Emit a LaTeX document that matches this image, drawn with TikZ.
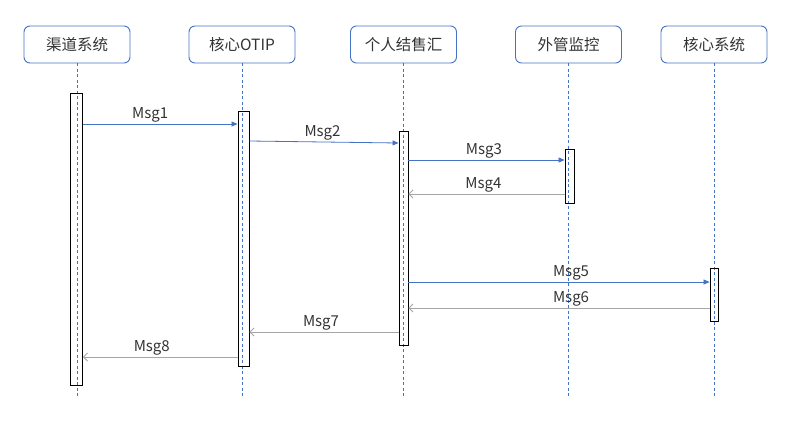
\documentclass[tikz,border=0pt]{standalone}
\usepackage{fontspec}
\setmainfont{Noto Sans CJK SC}
\usetikzlibrary{arrows.meta}
\definecolor{lineblue}{HTML}{4472C4}
\definecolor{msggray}{HTML}{A6A6A6}
\definecolor{txtgray}{HTML}{333333}
\tikzset{
  head/.style={draw=lineblue, line width=0.9pt, rounded corners=6pt, minimum width=106pt,
    minimum height=37pt, inner sep=0pt, text=txtgray, font=\fontsize{15.5}{18}\selectfont},
  life/.style={lineblue, line width=0.7pt, dash pattern=on 3pt off 2.5pt},
  actbox/.style={draw=black, line width=0.9pt, minimum width=10pt, inner sep=0pt},
  call/.style={lineblue, line width=0.8pt, -{Triangle[length=6pt,width=5pt]}},
  reply/.style={msggray, line width=0.8pt, -{Straight Barb[length=4pt,width=8pt]}},
  lbl/.style={above, inner sep=1.5pt, text=txtgray, font=\fontsize{15}{17}\selectfont}
}
\begin{document}
\begin{tikzpicture}[x=1pt,y=-1pt]
\useasboundingbox (0,0) rectangle (792,421);
% participants
\node[head] (p1) at (77,44.5) {渠道系统};
\node[head] (p2) at (242,44.5) {核心OTIP};
\node[head] (p3) at (403.5,44.5) {个人结售汇};
\node[head] (p4) at (568.5,44.5) {外管监控};
\node[head] (p5) at (714,44.5) {核心系统};
% lifelines
\foreach \i in {1,...,5}{
  \coordinate (e\i) at (p\i.south |- {0,398});
  \draw[life] (p\i.south) -- (e\i);
}
% activations
\node[actbox, minimum width=12pt, minimum height=292pt] (a1) at (76.5,239) {};
\node[actbox, minimum width=11pt, minimum height=255pt] (a2) at (243.5,238.5) {};
\node[actbox, minimum width=9pt, minimum height=214pt] (a3) at (403.5,238) {};
\node[actbox, minimum width=9pt, minimum height=54pt] (a4) at (569.5,176) {};
\node[actbox, minimum width=8pt, minimum height=53pt] (a5) at (714,294.5) {};
% messages
\draw[call] (a1.east |- {0,124}) -- (a2.west |- {0,124}) node[lbl, pos=0.435] {Msg1};
\draw[call] (a2.east |- {0,141}) -- (a3.west |- {0,143}) node[lbl, pos=0.49] {Msg2};
\draw[call] (a3.east |- {0,160}) -- (a4.west |- {0,160}) node[lbl, pos=0.483] {Msg3};
\draw[reply] (a4.west |- {0,194}) -- (a3.east |- {0,194}) node[lbl, pos=0.52] {Msg4};
\draw[call] (a3.east |- {0,282}) -- (a5.west |- {0,282}) node[lbl, pos=0.54] {Msg5};
\draw[reply] (a5.west |- {0,308}) -- (a3.east |- {0,308}) node[lbl, pos=0.46] {Msg6};
\draw[reply] (a3.west |- {0,332}) -- (a2.east |- {0,332}) node[lbl, pos=0.52] {Msg7};
\draw[reply] (a2.west |- {0,357}) -- (a1.east |- {0,357}) node[lbl, pos=0.555] {Msg8};
\end{tikzpicture}
\end{document}
